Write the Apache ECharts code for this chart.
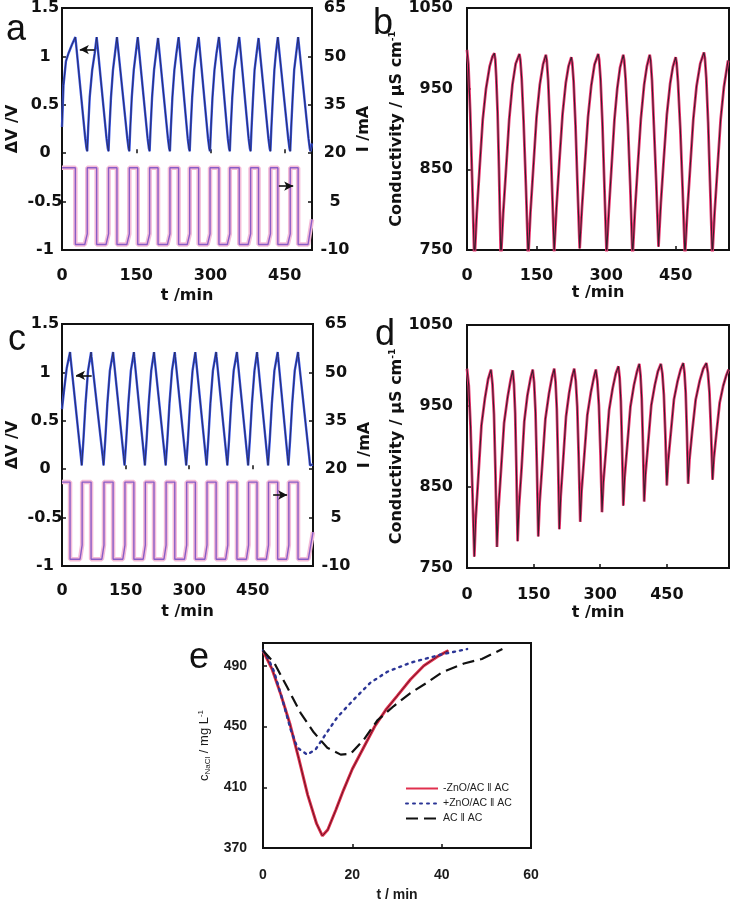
<!DOCTYPE html>
<html><head><meta charset="utf-8">
<script src="https://cdn.jsdelivr.net/npm/echarts/dist/echarts.min.js"></script>
<style>html,body{margin:0;padding:0;background:#fff}#c{width:732px;height:904px}</style>
</head><body><div id="c"></div>
<script>
// ---------------- DATA ----------------
// Panel a: cell voltage (left axis, V) and current (right axis, mA) vs t (min)
const aVoltage = [[0,0.27],[3,0.7],[8,0.95],[13,1.03],[20,1.12],[27,1.2],
[28,1.15],[47,0.15],[49.5,0.05],[51,0.02],[53,0.27],[56,0.58],[61,0.86],[66,1.03],[70,1.2],
[71,1.15],[90,0.15],[92.5,0.05],[94,0.02],[96,0.27],[99,0.58],[103,0.86],[107,1.03],[111,1.2],
[112,1.15],[132,0.15],[134.5,0.05],[136,0.02],[138,0.27],[141,0.58],[145,0.86],[149,1.03],[153,1.2],
[154,1.15],[173,0.15],[175.5,0.05],[177,0.02],[179,0.27],[182,0.58],[186,0.86],[190,1.03],[194,1.19],
[195,1.14],[214,0.15],[216.5,0.05],[218,0.02],[220,0.27],[223,0.58],[227,0.86],[231,1.03],[235.5,1.2],
[236.5,1.15],[254,0.15],[256.5,0.05],[258,0.02],[260,0.27],[263,0.58],[267,0.86],[271,1.03],[276,1.2],
[277,1.15],[295,0.15],[297.5,0.05],[299,0.02],[301,0.27],[304,0.58],[308,0.86],[312,1.03],[317,1.2],
[318,1.15],[335,0.15],[337.5,0.05],[339,0.02],[341,0.27],[344,0.58],[348,0.86],[353,1.03],[358,1.2],
[359,1.15],[377,0.15],[379.5,0.05],[381,0.02],[383,0.27],[386,0.58],[389,0.86],[393,1.03],[397,1.19],
[398,1.14],[417,0.15],[419.5,0.05],[421,0.02],[423,0.27],[426,0.58],[429,0.86],[432,1.03],[436,1.2],
[437,1.15],[457,0.15],[459.5,0.05],[461,0.02],[463,0.27],[466,0.58],[469,0.86],[473,1.03],[477,1.2],
[478,1.15],[498,0.15],[500.5,0.05],[502,0.02],[505,0.1]];
const aCurrent = [[0,15.5],[27,15.5],[27,-8.3],[46,-8.3],[51,-5],[51,15.5],
[70,15.5],[70,-8.3],[89,-8.3],[94,-5],[94,15.5],
[111,15.5],[111,-8.3],[131,-8.3],[136,-5],[136,15.5],
[153,15.5],[153,-8.3],[172,-8.3],[177,-5],[177,15.5],
[194,15.5],[194,-8.3],[213,-8.3],[218,-5],[218,15.5],
[235.5,15.5],[235.5,-8.3],[253,-8.3],[258,-5],[258,15.5],
[276,15.5],[276,-8.3],[294,-8.3],[299,-5],[299,15.5],
[317,15.5],[317,-8.3],[334,-8.3],[339,-5],[339,15.5],
[358,15.5],[358,-8.3],[376,-8.3],[381,-5],[381,15.5],
[397,15.5],[397,-8.3],[416,-8.3],[421,-5],[421,15.5],
[436,15.5],[436,-8.3],[456,-8.3],[461,-5],[461,15.5],
[477,15.5],[477,-8.3],[497,-8.3],[505,-0.5]];
const aArrowLeft = [[36,1.07],[66,1.07]];      // points toward the left axis
const aArrowRight = [[438,9.8],[467,9.8]];     // points toward the right axis

// Panel b: conductivity (uS/cm) vs t (min)
const bConductivity = [[0,998],[3,980],[7,920],[11,840],[16,735],
[21,795],[27,850],[34,912],[41,950],[49,978],[55,990],[59,994],
[61,986],[63,965],[66,920],[69,850],[73,738],
[78,795],[84,848],[91,912],[98,955],[105,981],[113,993],
[115,986],[118,962],[122,910],[127,830],[132,740],
[137,798],[143,852],[150,915],[157,955],[164,980],[170,992],
[172,985],[175,960],[179,905],[183,835],[188,748],
[193,803],[199,858],[206,918],[213,957],[219,978],[225,989],
[227,982],[230,958],[234,905],[238,835],[243,752],
[248,803],[254,855],[261,915],[268,954],[275,980],[283,993],
[285,986],[288,962],[292,908],[296,835],[301,745],
[306,800],[312,856],[318,912],[324,950],[330,976],[337,992],
[339,985],[342,962],[347,905],[352,830],[357,740],
[362,797],[368,852],[375,913],[382,955],[388,978],[394,992],
[396,985],[399,960],[403,905],[408,835],[413,754],
[418,808],[424,860],[431,918],[438,956],[444,977],[450,989],
[452,982],[455,958],[460,900],[465,825],[470,742],
[475,797],[481,850],[488,912],[495,953],[503,981],[511,995],
[513,988],[516,963],[520,908],[524,835],[529,742],
[534,797],[540,850],[547,912],[554,952],[563,985]];

// Panel c: cell voltage and current vs t (min)
const cVoltage = [[0,0.62],[5,0.82],[11,1.04],[19,1.21],
[20,1.16],[44.5,0.13],[46.5,0.04],[47.5,0.02],[50.5,0.3],[55.5,0.68],[61.5,1.02],[68.6,1.21],
[69.6,1.16],[96,0.13],[98,0.04],[99,0.02],[102,0.3],[107,0.68],[113,1.02],[120.5,1.21],
[121.5,1.16],[145.5,0.13],[147.5,0.04],[148.5,0.02],[151.5,0.3],[156.5,0.68],[162.5,1.02],[169.5,1.21],
[170.5,1.16],[193.5,0.13],[195.5,0.04],[196.5,0.02],[199.5,0.3],[204.5,0.68],[210.5,1.02],[217,1.21],
[218,1.16],[242.5,0.13],[244.5,0.04],[245.5,0.02],[248.5,0.3],[253.5,0.68],[259.5,1.02],[266,1.21],
[267,1.16],[291,0.13],[293,0.04],[294,0.02],[297,0.3],[302,0.68],[308,1.02],[314.5,1.21],
[315.5,1.16],[339,0.13],[341,0.04],[342,0.02],[345,0.3],[350,0.68],[356,1.02],[363.5,1.21],
[364.5,1.16],[388,0.13],[390,0.04],[391,0.02],[394,0.3],[399,0.68],[405,1.02],[412.6,1.21],
[413.6,1.16],[437,0.13],[439,0.04],[440,0.02],[443,0.3],[448,0.68],[454,1.02],[460,1.21],
[461,1.16],[484,0.13],[486,0.04],[487,0.02],[490,0.3],[495,0.68],[501,1.02],[508.7,1.21],
[509.7,1.16],[532,0.13],[534,0.04],[535,0.02],[538,0.3],[543,0.68],[549,1.02],[556.7,1.21],
[557.7,1.16],[583,0.13],[585,0.04],[586,0.02],[592,0.05]];
const cCurrent = [[0,16],[19,16],[19,-7.9],[42.5,-7.9],[47.5,-3.5],[47.5,16],
[68.6,16],[68.6,-7.9],[94,-7.9],[99,-3.5],[99,16],
[120.5,16],[120.5,-7.9],[143.5,-7.9],[148.5,-3.5],[148.5,16],
[169.5,16],[169.5,-7.9],[191.5,-7.9],[196.5,-3.5],[196.5,16],
[217,16],[217,-7.9],[240.5,-7.9],[245.5,-3.5],[245.5,16],
[266,16],[266,-7.9],[289,-7.9],[294,-3.5],[294,16],
[314.5,16],[314.5,-7.9],[337,-7.9],[342,-3.5],[342,16],
[363.5,16],[363.5,-7.9],[386,-7.9],[391,-3.5],[391,16],
[412.6,16],[412.6,-7.9],[435,-7.9],[440,-3.5],[440,16],
[460,16],[460,-7.9],[482,-7.9],[487,-3.5],[487,16],
[508.7,16],[508.7,-7.9],[530,-7.9],[535,-3.5],[535,16],
[556.7,16],[556.7,-7.9],[581,-7.9],[592,0.5]];
const cArrowLeft = [[33,0.97],[70,0.97]];
const cArrowRight = [[498,12],[531,12]];

// Panel d: conductivity vs t (min)
const dConductivity = [[0,996],[4,975],[8,925],[12,850],[16.5,764],
[19.5,810],[25.5,863],[32.5,926],[40.5,960],[47.5,983],[54,995],
[57.4,977],[60.75,940],[64.1,868],[67.5,776],
[70.5,820],[76.5,870],[83.5,929],[91.5,961],[98.5,983],[103,994],
[105.75,977],[108.5,941],[111.25,872],[114,783],
[117,825],[123,874],[129,931],[136,963],[143,984],[148,995],
[151.1,979],[154.25,943],[157.4,875],[160.5,789],
[163.5,830],[169.5,878],[176.5,934],[184.5,965],[191.5,986],[196.5,996],
[199.4,980],[202.25,946],[205.1,881],[208,798],
[211,838],[216.5,883],[223,937],[230,966],[236.5,986],[241.5,996],
[244.9,981],[248.25,949],[251.6,886],[255,807],
[258,845],[264,888],[271,939],[279,967],[286,986],[290,995],
[293.5,981],[297,951],[300.5,893],[304,819],
[307,855],[313,896],[320,945],[328,972],[335,990],[341,999],
[343.75,985],[346.5,956],[349.25,899],[352,827],
[355,862],[361,902],[368,949],[376,976],[383,993],[388,1002],
[390.75,988],[393.5,959],[396.25,903],[399,832],
[402,866],[408,905],[415,951],[423,976],[430,993],[436.6,1002],
[440,990],[443.3,964],[446.65,915],[450,852],
[453,882],[459,917],[466,958],[474,980],[481,995],[487,1003],
[489.75,991],[492.5,966],[495.25,917],[498,854],
[501,884],[507,918],[515,958],[524,981],[532,996],[539,1003],
[542.5,991],[546,967],[549.5,919],[553,859],
[556,886],[562,918],[569,954],[577,975],[584,988],[589,995]];

// Panel e: NaCl concentration (mg/L) vs t (min)
const eNames = ['-ZnO/AC \u2016 AC', '+ZnO/AC \u2016 AC', 'AC \u2016 AC'];
const eMinusZnO = [[0,500],[2,488],[4,471],[6,452],[8,429],[10,405],[12,386],[13.3,378],[14.5,382],[16.3,395],[18,408],[20,422],[22.5,436],[25,450],[27.5,461],[30,470],[33,481],[36,490],[39,496],[41.5,500]];
const ePlusZnO = [[0,500],[1,496],[2.5,486],[4.7,464],[6.2,448],[7.7,436],[9.9,431.5],[11.8,435],[13.7,443.5],[16.6,456],[20.4,468],[24.1,479],[27.8,486],[33,492],[40,497.5],[45.7,501]];
const eACAC = [[0,500],[2.5,492],[5.4,476],[8.4,459],[11.4,446],[14.4,436],[17.4,431.5],[19.6,432],[22.6,441.5],[25.6,454],[29.3,463.5],[33,472],[36.5,478.5],[40,485.5],[45,491.5],[49,494.5],[53.6,501]];

// ---------------- STYLE / LAYOUT ----------------
const FB = 'DejaVu Sans';
const FR = 'Liberation Sans';
const INK = '#111';
const boldLbl = {fontFamily:FB, fontWeight:'bold', fontSize:16, color:INK};
const plain = v => String(v);

function grid(l,t,w,h){return {left:l,top:t,width:w,height:h,show:true,borderColor:INK,borderWidth:2,backgroundColor:'transparent'};}
function xAx(gi,max,interval,margin,nameGap,lbl,name,nameStyle){
  return {type:'value',gridIndex:gi,min:0,max:max,interval:interval,
    axisLine:{show:false},splitLine:{show:false},
    axisTick:{show:true,inside:true,length:4,lineStyle:{color:INK,width:1.5}},
    axisLabel:Object.assign({margin:margin,formatter:plain,showMaxLabel:max%interval===0},lbl),
    name:name,nameLocation:'middle',nameGap:nameGap,nameTextStyle:Object.assign({},nameStyle||lbl)};
}
function yAx(gi,min,max,interval,pos,margin,align,nameGap,lbl,name,rich){
  const o = {type:'value',gridIndex:gi,min:min,max:max,interval:interval,position:pos,
    axisLine:{show:false},splitLine:{show:false},
    axisTick:{show:true,inside:true,length:4,lineStyle:{color:INK,width:1.5}},
    axisLabel:Object.assign({margin:margin,align:align,formatter:plain,showMaxLabel:(max-min)%interval===0},lbl),
    name:name,nameLocation:'middle',nameGap:nameGap,nameRotate:90,
    nameTextStyle:Object.assign({},lbl)};
  if(rich) o.nameTextStyle.rich = rich;
  return o;
}
function ln(name,xi,yi,data,color,width,extra){
  return Object.assign({name:name,type:'line',xAxisIndex:xi,yAxisIndex:yi,data:data,
    showSymbol:false,symbol:'none',clip:true,animation:false,silent:true,
    lineStyle:{color:color,width:width},itemStyle:{color:color}},extra||{});
}
function arrow(pts,headAtStart){
  return {silent:true,animation:false,symbol:headAtStart?['arrow','none']:['none','arrow'],symbolSize:[7,9],
    label:{show:false},lineStyle:{color:INK,width:1.6,type:'solid'},
    data:[[{coord:pts[0]},{coord:pts[1]}]]};
}

const supRich = {sup:{fontFamily:FB,fontWeight:'bold',fontSize:9,color:INK,verticalAlign:'top',padding:[0,0,8,0]}};
const eLbl = {fontFamily:FR, fontWeight:'bold', fontSize:14, color:'#1a1a1a'};
const eName = {fontFamily:FR, fontWeight:'bold', fontSize:14, color:'#1a1a1a'};
const eYName = {fontFamily:FR, fontSize:13, color:'#1a1a1a'};
const eRich = {
  c:{fontFamily:FR,fontSize:13,color:'#1a1a1a'},
  sub:{fontFamily:FR,fontSize:8,color:'#1a1a1a',padding:[6,0,0,0]},
  sup:{fontFamily:FR,fontSize:8,color:'#1a1a1a',padding:[0,0,7,0]}
};

const eY = yAx(4,370,505,40,'left',16,'right',51,eLbl,'{c|c}{sub|NaCl}{c| / mg L}{sup|-1}',eRich);
eY.nameTextStyle = Object.assign({}, eYName, {rich:eRich});

const option = {
  backgroundColor:'#fff',
  animation:false,
  grid:[grid(62,8,250,242),grid(467,8,262,242),grid(62,324,251,242),grid(467,325,262,243),grid(263,643,268,205)],
  xAxis:[
    xAx(0,505,150,18,38,boldLbl,'t /min'),
    xAx(1,565,150,18,34,boldLbl,'t /min'),
    xAx(2,592,150,17,38,boldLbl,'t /min'),
    xAx(3,590,150,19,37,boldLbl,'t /min'),
    xAx(4,60,20,20,40,eLbl,'t / min',eName)
  ],
  yAxis:[
    yAx(0,-1,1.5,0.5,'left',17,'center',41,boldLbl,'\u0394V /V'),
    yAx(0,-10,65,15,'right',23,'center',44,boldLbl,'I /mA'),
    yAx(1,750,1050,100,'left',14,'right',50,boldLbl,'Conductivity / \u03bcS cm{sup|-1}',supRich),
    yAx(2,-1,1.5,0.5,'left',17,'center',41,boldLbl,'\u0394V /V'),
    yAx(2,-10,65,15,'right',23,'center',44,boldLbl,'I /mA'),
    yAx(3,750,1050,100,'left',14,'right',50,boldLbl,'Conductivity / \u03bcS cm{sup|-1}',supRich),
    eY
  ],
  legend:{data:eNames,left:405,top:783,orient:'vertical',itemGap:4,itemWidth:32,itemHeight:10,padding:0,
    itemStyle:{opacity:0},
    textStyle:{fontFamily:FR,fontSize:10.5,color:'#222'},selectedMode:false},
  graphic:[
    {type:'text',left:6,top:12,style:{text:'a',font:'36px "Liberation Sans"',fill:INK}},
    {type:'text',left:373,top:6,style:{text:'b',font:'36px "Liberation Sans"',fill:INK}},
    {type:'text',left:8,top:322,style:{text:'c',font:'36px "Liberation Sans"',fill:INK}},
    {type:'text',left:375,top:317,style:{text:'d',font:'36px "Liberation Sans"',fill:INK}},
    {type:'text',left:189,top:640,style:{text:'e',font:'36px "Liberation Sans"',fill:INK}}
  ],
  series:[
    // a
    ln('aCurHalo',0,1,aCurrent,'#f4bcd8',4.5),
    ln('aCur',0,1,aCurrent,'#8a5cc6',1.4,{markLine:arrow(aArrowRight,false)}),
    ln('aVolt',0,0,aVoltage,'#3a55e6',2.4),
    ln('aVoltDark',0,0,aVoltage,'#262a5a',0.9,{markLine:arrow(aArrowLeft,true)}),
    // b
    ln('bCond',1,2,bConductivity,'#ec3570',2.8),
    ln('bCondDark',1,2,bConductivity,'#3a1e2c',1.1),
    // c
    ln('cCurHalo',2,4,cCurrent,'#f4bcd8',4.5),
    ln('cCur',2,4,cCurrent,'#8a5cc6',1.4,{markLine:arrow(cArrowRight,false)}),
    ln('cVolt',2,3,cVoltage,'#3a55e6',2.4),
    ln('cVoltDark',2,3,cVoltage,'#262a5a',0.9,{markLine:arrow(cArrowLeft,true)}),
    // d
    ln('dCond',3,5,dConductivity,'#ec3570',2.8),
    ln('dCondDark',3,5,dConductivity,'#3a1e2c',1.1),
    // e
    ln(eNames[0],4,6,eMinusZnO,'#e0304e',3),
    ln('eRedCore',4,6,eMinusZnO,'#6a1424',1),
    ln(eNames[1],4,6,ePlusZnO,'#2b3596',2.4,{lineStyle:{color:'#2b3596',width:2.4,type:[2,5],cap:'round'}}),
    ln(eNames[2],4,6,eACAC,'#111',2.2,{lineStyle:{color:'#111',width:2.2,type:[12,6]}})
  ]
};
const chart = echarts.init(document.getElementById('c'),null,{renderer:'canvas'});
chart.setOption(option);
</script></body></html>
